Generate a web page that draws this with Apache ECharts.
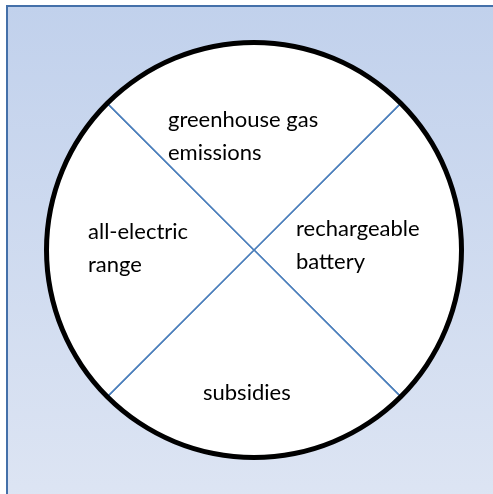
<!DOCTYPE html>
<html>
<head>
<meta charset="utf-8">
<script src="https://cdn.jsdelivr.net/npm/echarts@6/dist/echarts.min.js"></script>
<style>
  html, body { margin: 0; padding: 0; background: #fff; }
  #chart { width: 493px; height: 494px; }
</style>
</head>
<body>
<div id="chart"></div>
<script>
// four equal quadrants of the circle, clockwise from the right one
const quadrants = ['rechargeable\nbattery', 'subsidies', 'all-electric\nrange', 'greenhouse gas\nemissions']
const shares = [1, 1, 1, 1]

// where each quadrant's text block starts (left, top)
const labelPos = [[296, 212], [203, 376], [88, 215], [168, 103]]

const myChart = echarts.init(document.getElementById('chart'))

const option = {
    animation: false,
    graphic: [
        {
            type: 'rect',
            z: -10,
            shape: {x: 7, y: 6, width: 600, height: 600},
            style: {
                fill: new echarts.graphic.LinearGradient(0, 0, 0, 1, [
                    {offset: 0, color: '#c1d1ec'},
                    {offset: 0.8, color: '#dce4f3'},
                    {offset: 1, color: '#e2e9f5'}
                ]),
                stroke: '#4470a9',
                lineWidth: 2
            }
        },
        ...quadrants.map((q, i) => ({
            type: 'text',
            z: 100,
            x: labelPos[i][0],
            y: labelPos[i][1],
            style: {
                text: q,
                font: '22px Lato',
                fill: '#000',
                textAlign: 'left',
                textVerticalAlign: 'top',
                lineHeight: 33
            }
        }))
    ],
    series: [
        {
            type: 'pie',
            center: [254, 250],
            radius: [0, 207],
            startAngle: 45,
            silent: true,
            label: {show: false},
            labelLine: {show: false},
            emphasis: {disabled: true},
            itemStyle: {
                color: '#fff',
                borderColor: '#4a7ebb',
                borderWidth: 1.5
            },
            data: quadrants.map((q, i) => ({name: q, value: shares[i]}))
        },
        {
            type: 'pie',
            center: [254, 250],
            radius: [205, 210],
            silent: true,
            z: 3,
            label: {show: false},
            labelLine: {show: false},
            emphasis: {disabled: true},
            itemStyle: {color: '#000'},
            data: [{name: 'ring', value: 1}]
        }
    ]
}

myChart.setOption(option)
</script>
</body>
</html>
